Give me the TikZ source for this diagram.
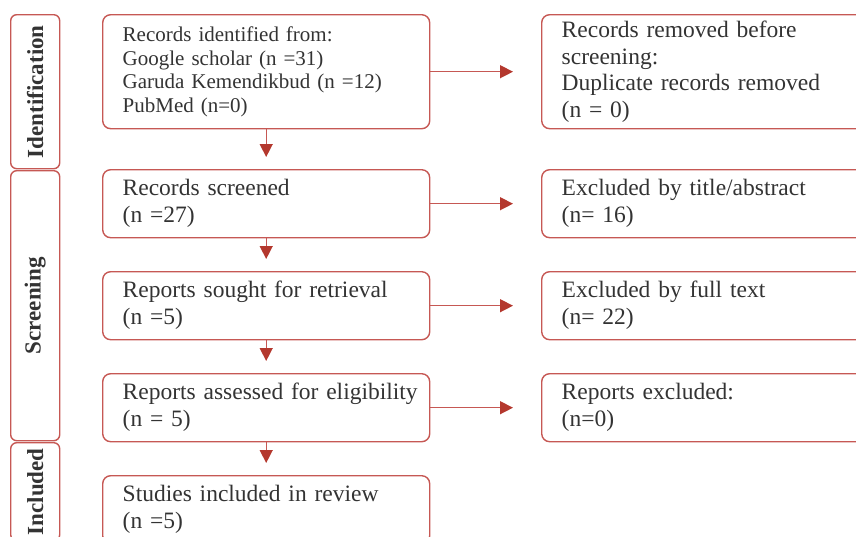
\documentclass[tikz,border=0pt]{standalone}
\usepackage{fontspec}
\setmainfont{Liberation Serif}
\usetikzlibrary{arrows.meta}
\definecolor{bord}{RGB}{198,88,84}
\definecolor{arr}{RGB}{180,56,46}
\definecolor{txt}{RGB}{51,51,51}
\begin{document}
\begin{tikzpicture}[x=1pt,y=-1pt,
  box/.style={draw=bord, line width=1.4pt, rounded corners=8pt, anchor=north west,
    align=left, inner xsep=20pt, inner ysep=0pt, text=txt,
    font=\fontsize{23.5}{27}\selectfont},
  mainbox/.style={box, text width=287pt, minimum height=68pt},
  rightbox/.style={box, text width=300pt, minimum height=68pt},
  sidebox/.style={draw=bord, line width=1.4pt, rounded corners=6pt, anchor=north west,
    minimum width=49pt, inner sep=0pt},
  sidelabel/.style={rotate=90, text=txt, font=\fontsize{23}{26}\selectfont\bfseries},
  flow/.style={draw=bord, line width=1.4pt, -{Triangle[length=13pt,width=13pt,color=arr,fill=arr]}}
]
\useasboundingbox (0,0) rectangle (856,536);
\clip (0,0) rectangle (856,536);

% side phase boxes
\node[sidebox, minimum height=154pt] (sid) at (10,14) {};
\node[sidebox, minimum height=270pt] (sscr) at (10,170) {};
\node[sidebox, minimum height=98pt] (sinc) at (10,442) {};
\node[sidelabel] (lid) at (sid.center) {Identification};
\node[sidelabel] (lscr) at (sscr.center) {Screening};
\node[sidelabel] (linc) at (sinc.center) {Included};

% main column
\node[mainbox, minimum height=114pt, font=\fontsize{21}{23.7}\selectfont] (b1) at (102,14)
  {Records identified from:\\Google scholar (n =31)\\Garuda Kemendikbud (n =12)\\PubMed (n=0)};
\node[mainbox] (b2) at (102,169) {Records screened\\(n =27)};
\node[mainbox] (b3) at (102,271) {Reports sought for retrieval\\(n =5)};
\node[mainbox] (b4) at (102,373) {\mbox{Reports assessed for eligibility}\\(n = 5)};
\node[mainbox] (b5) at (102,475) {Studies included in review\\(n =5)};

% right column
\node[rightbox, minimum height=114pt, font=\fontsize{23.5}{26.7}\selectfont] (r1) at (541,14)
  {Records removed before\\screening:\\Duplicate records removed\\(n = 0)};
\node[rightbox] (r2) at (541,169) {Excluded by title/abstract\\(n= 16)};
\node[rightbox] (r3) at (541,271) {Excluded by full text\\(n= 22)};
\node[rightbox] (r4) at (541,373) {Reports excluded:\\(n=0)};

% connectors
\draw[flow, shorten >=28pt] (b1.east) -- (r1.west);
\draw[flow, shorten >=28pt] (b2.east) -- (r2.west);
\draw[flow, shorten >=28pt] (b3.east) -- (r3.west);
\draw[flow, shorten >=28pt] (b4.east) -- (r4.west);
\draw[flow, shorten >=12pt] (b1.south) -- (b2.north);
\draw[flow, shorten >=12pt] (b2.south) -- (b3.north);
\draw[flow, shorten >=12pt] (b3.south) -- (b4.north);
\draw[flow, shorten >=12pt] (b4.south) -- (b5.north);
\end{tikzpicture}
\end{document}
